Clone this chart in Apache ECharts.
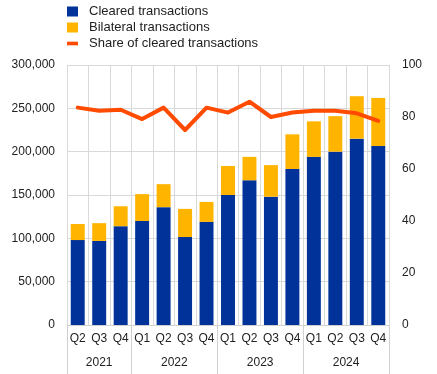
<!DOCTYPE html>
<html>
<head>
<meta charset="utf-8">
<script src="https://cdn.jsdelivr.net/npm/echarts@6/dist/echarts.min.js"></script>
<style>
html,body{margin:0;padding:0;background:#fff;}
#chart{width:437px;height:374px;}
</style>
</head>
<body>
<div id="chart"></div>
<script>
var quarters = ['Q2','Q3','Q4','Q1','Q2','Q3','Q4','Q1','Q2','Q3','Q4','Q1','Q2','Q3','Q4'];
var years = ['2021','2022','2023','2024'];
var yearGroupSizes = [3,4,4,4];
var cleared = [98000,97000,114000,120000,136000,101500,119000,150000,167000,148000,180000,194000,200000,215000,206500];
var bilateral = [18500,20500,23000,31000,26500,32500,23000,33500,27000,36500,40000,41000,41000,49000,55500];
var share = [83.6,82.4,82.8,79.2,83.6,75.0,83.6,81.7,85.9,80.0,81.7,82.4,82.4,81.4,78.5];
var leftTicks = [0,50000,100000,150000,200000,250000,300000];
var rightTicks = [0,20,40,60,80,100];

// year group boundaries and centres in category units
var bounds = [0], centres = [], yearAt = {};
yearGroupSizes.forEach(function(n, i){
  var start = bounds[bounds.length-1];
  bounds.push(start + n);
  var c = start + n/2;
  centres.push(c);
  yearAt[c] = years[i];
});

var font = 'Liberation Sans, Arial, sans-serif';
var txt = '#222';
var chart = echarts.init(document.getElementById('chart'), null, {renderer:'canvas'});
chart.setOption({
  animation:false,
  textStyle:{fontFamily:font},
  legend:{
    orient:'vertical', left:62, top:0, itemGap:3,
    itemWidth:11, itemHeight:10, symbolKeepAspect:true,
    textStyle:{fontFamily:font, fontSize:13, color:txt, padding:[0,0,0,6]},
    data:[
      {name:'Cleared transactions', icon:'rect'},
      {name:'Bilateral transactions', icon:'rect'},
      {name:'Share of cleared transactions', icon:'path://M0,0 L12,0 L12,4 L0,4 Z'}
    ]
  },
  grid:{left:67, right:48, top:65, bottom:49, containLabel:false},
  xAxis:[{
    type:'category', data:quarters, boundaryGap:true,
    axisLine:{show:true, lineStyle:{color:'#d0d0d0'}},
    axisTick:{show:false},
    axisLabel:{interval:0, margin:8, fontSize:12, color:txt, fontFamily:font},
    splitLine:{show:true, interval:0, lineStyle:{color:'#d9d9d9', width:1}}
  },{
    type:'value', min:0, max:15, position:'bottom',
    axisLine:{show:false},
    axisTick:{show:true, customValues:bounds, length:49, lineStyle:{color:'#d0d0d0'}},
    axisLabel:{show:true, customValues:centres, margin:32, fontSize:12, color:txt, fontFamily:font,
      formatter:function(v){ return yearAt[v] || ''; }},
    splitLine:{show:false}
  }],
  yAxis:[{
    type:'value', min:0, max:300000, interval:50000,
    axisLine:{show:false}, axisTick:{show:false},
    axisLabel:{margin:12, fontSize:12, color:txt, fontFamily:font,
      formatter:function(v){ return v.toLocaleString('en-US'); }},
    splitLine:{show:true, lineStyle:{color:'#d9d9d9', width:1}}
  },{
    type:'value', min:0, max:100, interval:20, position:'right',
    axisLine:{show:false}, axisTick:{show:false},
    axisLabel:{margin:13, fontSize:12, color:txt, fontFamily:font},
    splitLine:{show:false}
  }],
  series:[{
    name:'Cleared transactions', type:'bar', stack:'t', data:cleared,
    barCategoryGap:'35%', itemStyle:{color:'#003299'}
  },{
    name:'Bilateral transactions', type:'bar', stack:'t', data:bilateral,
    itemStyle:{color:'#ffb400'}
  },{
    name:'Share of cleared transactions', type:'line', yAxisIndex:1, data:share,
    symbol:'none', lineStyle:{color:'#ff4b00', width:4, join:'round', cap:'round'},
    itemStyle:{color:'#ff4b00'}, z:5
  }]
});
</script>
</body>
</html>
